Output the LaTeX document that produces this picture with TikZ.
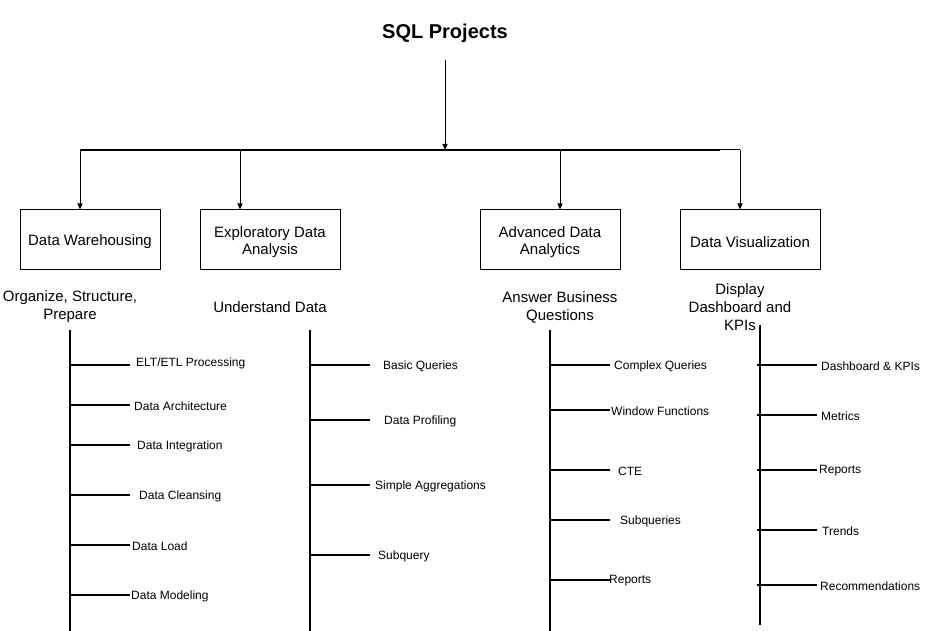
\documentclass[tikz,border=0pt]{standalone}
\usepackage{fontspec}
\setmainfont{Liberation Sans}
\usetikzlibrary{arrows.meta}
\begin{document}
\begin{tikzpicture}[x=1pt,y=-1pt,
  box/.style={draw,line width=1pt,minimum width=140pt,minimum height=60pt,inner sep=0pt},
  boxtext/.style={align=center,font=\fontsize{15}{17}\selectfont,inner sep=0pt},
  sub/.style={align=center,font=\fontsize{15}{18}\selectfont,inner sep=0pt},
  leaf/.style={anchor=west,font=\fontsize{12}{14}\selectfont,inner sep=0pt},
  arr/.style={line width=1pt,-{Triangle[length=6pt,width=5pt]}},
  trunk/.style={line width=2.2pt},
  twig/.style={line width=2.2pt}]
\useasboundingbox (0,0) rectangle (930,631);
\node[font=\bfseries\fontsize{20}{24}\selectfont] (title) at (445,33) {SQL Projects};
\coordinate (t0) at (445,60);
\coordinate (hj) at (445,150);
\coordinate (hl) at (80,150);
\coordinate (hr) at (720,150);
\coordinate (h2) at (240,150);
\coordinate (h3) at (560,150);
\coordinate (h4) at (740,150);
\draw[arr] (t0) -- (hj);
\draw[line width=2.2pt] (hl) -- (hr);
\draw[line width=1pt] (hr) -- (h4);

\node[box] (dw) at (90,240) {};
\node[box] (eda) at (270,240) {};
\node[box] (ada) at (550,240) {};
\node[box] (dv) at (750,240) {};
\node[boxtext] (dwt) at (90,242) {Data Warehousing};
\node[boxtext] (edat) at (270,242) {Exploratory Data\\Analysis};
\node[boxtext] (adat) at (550,242) {Advanced Data\\Analytics};
\node[boxtext] (dvt) at (750,242) {Data Visualization};

\draw[arr] (hl) -- (hl|-dw.north);
\draw[arr] (h2) -- (h2|-eda.north);
\draw[arr] (h3) -- (h3|-ada.north);
\draw[arr] (h4) -- (h4|-dv.north);

\node[sub] (s1) at (70,307) {Organize, Structure,\\Prepare};
\node[sub] (s2) at (270,307) {Understand Data};
\node[sub] (s3) at (560,307) {Answer Business\\Questions};
\node[sub] (s4) at (740,307) {Display\\Dashboard and\\KPIs};

% column 1
\coordinate (a0) at (70,330); \coordinate (a9) at (70,631);
\draw[trunk] (a0) -- (a9);
\foreach \y/\lx/\t [count=\i] in {363/136/ELT\slash ETL Processing,406.5/134/Data Architecture,446.5/137/Data Integration,496.5/139/Data Cleansing,546.5/132/Data Load,596.5/131/Data Modeling}{
  \node[leaf] (al\i) at (\lx,\y) {\t};
}
\foreach \y [count=\i] in {365,405,445,495,545,595}{
  \coordinate (ab\i) at (70,\y); \coordinate (ae\i) at (130,\y);
  \draw[twig] (ab\i) -- (ae\i);
}
% column 2
\coordinate (b0) at (310,330); \coordinate (b9) at (310,631);
\draw[trunk] (b0) -- (b9);
\foreach \y/\lx/\t [count=\i] in {365/383/Basic Queries,420/384/Data Profiling,485/375/Simple Aggregations,555/378/Subquery}{
  \coordinate (bb\i) at (310,\y); \coordinate (be\i) at (370,\y);
  \node[leaf] (bl\i) at (\lx,\y+1.5) {\t};
  \draw[twig] (bb\i) -- (be\i);
}
% column 3
\coordinate (c0) at (550,330); \coordinate (c9) at (550,631);
\draw[trunk] (c0) -- (c9);
\foreach \y/\lx/\t [count=\i] in {365/614/Complex Queries,410/611/Window Functions,470/618/CTE,520/620/Subqueries,580/609/Reports}{
  \coordinate (cb\i) at (550,\y); \coordinate (ce\i) at (610,\y);
  \node[leaf] (cl\i) at (\lx,\y+1) {\t};
  \draw[twig] (cb\i) -- (ce\i);
}
% column 4
\coordinate (d0) at (760,325); \coordinate (d9) at (760,625);
\draw[trunk] (d0) -- (d9);
\foreach \y/\lx/\t [count=\i] in {365/821/Dashboard \& KPIs,415/821/Metrics,470/819/Reports,530/822/Trends,585/820/Recommendations}{
  \coordinate (db\i) at (757,\y); \coordinate (de\i) at (817,\y);
  \node[leaf] (dl\i) at (\lx,\y+1) {\t};
  \draw[twig] (db\i) -- (de\i);
}
\end{tikzpicture}
\end{document}
